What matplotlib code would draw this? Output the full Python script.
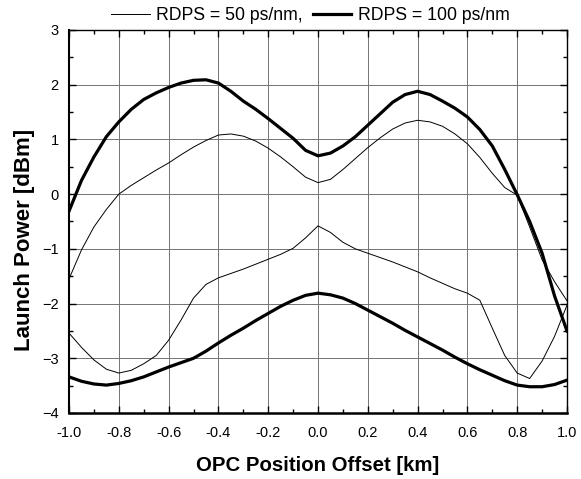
import numpy as np
import matplotlib
matplotlib.use("Agg")
import matplotlib.pyplot as plt
from matplotlib.ticker import MultipleLocator
from matplotlib.lines import Line2D

plt.rcParams['font.family'] = ['Liberation Sans', 'DejaVu Sans']

offset = np.round(np.arange(-1.0, 1.0001, 0.05), 2)

# RDPS = 50 ps/nm, upper and lower branch
hi50 = [-1.55, -1.02, -0.60, -0.28, 0.00, 0.16, 0.30, 0.44, 0.57, 0.72,
        0.86, 0.98, 1.08, 1.10, 1.06, 0.97, 0.84, 0.68, 0.50, 0.31,
        0.21, 0.27, 0.45, 0.65, 0.85, 1.03, 1.19, 1.30, 1.35, 1.32,
        1.24, 1.10, 0.92, 0.67, 0.38, 0.12, -0.02, -0.60, -1.20, -1.60,
        -1.95]
lo50 = [-2.54, -2.80, -3.03, -3.20, -3.27, -3.22, -3.10, -2.95, -2.67, -2.30,
        -1.90, -1.65, -1.53, -1.45, -1.37, -1.28, -1.19, -1.10, -0.99, -0.80,
        -0.58, -0.70, -0.88, -1.00, -1.08, -1.16, -1.24, -1.33, -1.42, -1.53,
        -1.63, -1.73, -1.81, -1.94, -2.45, -2.95, -3.27, -3.37, -3.05, -2.60,
        -2.03]

# RDPS = 100 ps/nm, upper and lower branch
hi100 = [-0.31, 0.25, 0.68, 1.05, 1.32, 1.55, 1.73, 1.85, 1.95, 2.03,
         2.08, 2.09, 2.03, 1.88, 1.70, 1.55, 1.38, 1.20, 1.02, 0.80,
         0.70, 0.75, 0.88, 1.05, 1.26, 1.47, 1.68, 1.82, 1.88, 1.82,
         1.70, 1.57, 1.41, 1.18, 0.88, 0.45, -0.01, -0.50, -1.08, -1.86,
         -2.50]
lo100 = [-3.34, -3.42, -3.47, -3.49, -3.46, -3.41, -3.34, -3.25, -3.16, -3.08,
         -3.00, -2.87, -2.72, -2.58, -2.45, -2.31, -2.18, -2.05, -1.94, -1.85,
         -1.81, -1.84, -1.90, -2.00, -2.12, -2.24, -2.36, -2.49, -2.61, -2.73,
         -2.85, -2.98, -3.10, -3.21, -3.31, -3.41, -3.49, -3.52, -3.52, -3.48,
         -3.40]

fig = plt.figure(figsize=(5.81, 4.79), dpi=100)
ax = fig.add_axes([0.1188, 0.1378, 0.8571, 0.7996])

thin = 0.7
thick = 2.3
ax.plot(offset, hi50, color='black', lw=thin)
ax.plot(offset, lo50, color='black', lw=thin)
ax.plot(offset, hi100, color='black', lw=thick)
ax.plot(offset, lo100, color='black', lw=thick)

ax.set_xlim(-1.0, 1.0)
ax.set_ylim(-4, 3)
ax.xaxis.set_major_locator(MultipleLocator(0.2))
ax.xaxis.set_minor_locator(MultipleLocator(0.1))
ax.yaxis.set_major_locator(MultipleLocator(1))
ax.yaxis.set_minor_locator(MultipleLocator(0.5))
ax.set_xticklabels([f"{v:.1f}" for v in ax.get_xticks()])
ax.grid(True, which='major', color='0.45', lw=0.7)
ax.tick_params(which='both', direction='in', top=True, right=True,
               labelsize=10.5, width=1.0)
ax.tick_params(which='major', length=5)
ax.tick_params(which='minor', length=3)
ax.tick_params(axis='x', pad=9.5)
ax.tick_params(axis='y', pad=7.5)
for side, w in [('bottom', 1.8), ('left', 1.5), ('top', 1.0), ('right', 1.0)]:
    ax.spines[side].set_linewidth(w)

ax.set_xlabel("OPC Position Offset [km]", fontsize=14.7, fontweight='bold', va='center')
ax.xaxis.set_label_coords(0.5, -0.136)
ax.set_ylabel("Launch Power [dBm]", fontsize=16, fontweight='bold', va='center')
ax.yaxis.set_label_coords(-0.0904, 0.452)

handles = [Line2D([], [], color='black', lw=thin),
           Line2D([], [], color='black', lw=thick)]
fig.legend(handles, ["RDPS = 50 ps/nm,", "RDPS = 100 ps/nm"], ncol=2,
           loc='center', bbox_to_anchor=(0.534, 0.967), frameon=False,
           fontsize=12.7, handlelength=2.2, handletextpad=0.35,
           columnspacing=0.55, borderpad=0.1)

fig.savefig("out.png", dpi=100)
